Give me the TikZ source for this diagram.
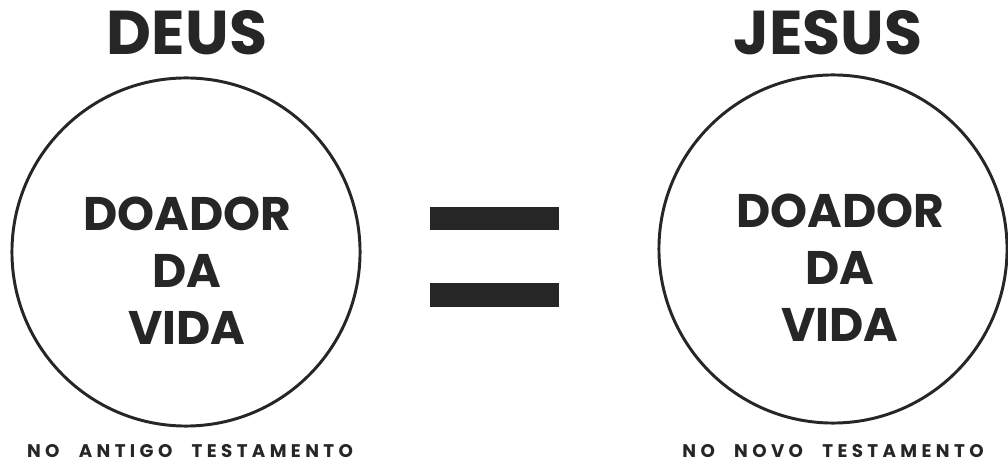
\documentclass[tikz,border=0pt]{standalone}
\usepackage{fontspec}
\setmainfont{Poppins}[BoldFont={* Bold}]
\usepackage{xcolor}
\usetikzlibrary{positioning}
\definecolor{ink}{RGB}{38,38,38}

\begin{document}
\begin{tikzpicture}[x=0.025cm, y=-0.025cm,
  ring/.style={draw=ink, line width=2.1pt, circle, minimum size=8.7cm, inner sep=0pt},
  title/.style={text=ink, anchor=base, font=\bfseries\fontsize{44}{44}\selectfont},
  inner/.style={text=ink, align=center, inner sep=0pt, font=\bfseries\fontsize{33.5}{40.5}\selectfont},
  note/.style={text=ink, anchor=base, font=\bfseries\fontsize{13}{13}\selectfont\addfontfeature{LetterSpace=24}},
  bar/.style={fill=ink, draw=none}
]
\useasboundingbox (0,0) rectangle (1008,464);
% titles
\node[title] (deus) at (187,55) {DEUS};
\node[title] (jesus) at (828,55) {JESUS};
% circles
\node[ring] (lring) at (186,252) {};
\node[ring] (rring) at (833,249) {};
\node[inner] (ltext) at (187,271) {DOADOR\\DA\\VIDA};
\node[inner] (rtext) at (840,268) {DOADOR\\DA\\VIDA};
% equals sign
\fill[bar] (430,207) rectangle (559,230);
\fill[bar] (430,283) rectangle (559,307);
% captions
\node[note] (lnote) at (190,458) {NO\hspace{0.6em} ANTIGO\hspace{0.6em} TESTAMENTO};
\node[note] (rnote) at (833,458) {NO\hspace{0.6em} NOVO\hspace{0.6em} TESTAMENTO};
\end{tikzpicture}
\end{document}
